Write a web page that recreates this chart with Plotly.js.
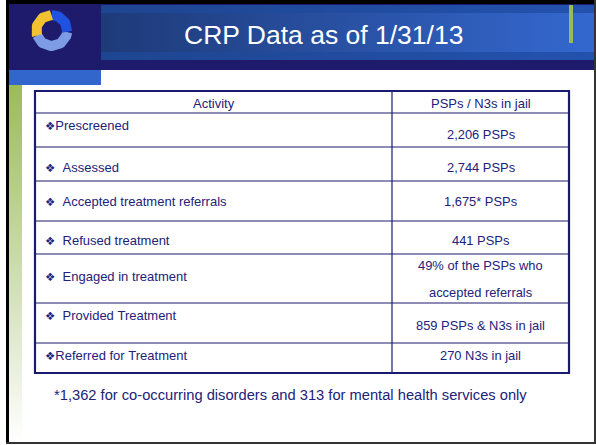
<!DOCTYPE html>
<html><head><meta charset="utf-8">
<script src="https://cdn.plot.ly/plotly-3.0.1.min.js"></script>
<style>html,body{margin:0;padding:0;background:#fff;}#chart{width:596px;height:445px;}</style>
</head><body><div id="chart"></div>
<script>
// ---- content ----
const titleText = 'CRP Data as of 1/31/13';
const headerActivity = 'Activity';
const headerValue = 'PSPs / N3s in jail';
const bullet = '❖';
const activities = ['Prescreened', '  Assessed', '  Accepted treatment referrals', '  Refused treatment', '  Engaged in treatment', '  Provided Treatment', 'Referred for Treatment'];
const values = [['2,206 PSPs'], ['2,744 PSPs'], ['1,675* PSPs'], ['441 PSPs'], ['49% of the PSPs who', 'accepted referrals'], ['859 PSPs & N3s in jail'], ['270 N3s in jail']];
const footnote = '*1,362 for co-occurring disorders and 313 for mental health services only';

// ---- layout geometry (pixels) ----
const rowEdges = [91, 113, 147, 181, 221, 254, 303, 343, 373];
const colEdges = [35, 392, 569];
const activityY = [125, 167, 201, 240, 276, 315, 355];
const valueY = [[134], [167], [201], [240], [265, 292], [325], [355]];

const FONT = 'Arial, "Liberation Sans", "DejaVu Sans", sans-serif';
const NAVY_TXT = '#22227A';
const LINE = '#1A1A6E';

const traces = [];
function gradRect(x0, x1, y0, y1, type, start, stop, cs) {
  traces.push({type:'scatter', mode:'lines', x:[x0,x1,x1,x0,x0], y:[y0,y0,y1,y1,y0], fill:'toself',
    line:{width:0, color:'rgba(0,0,0,0)'}, hoverinfo:'skip', showlegend:false,
    fillgradient:{type:type, start:start, stop:stop, colorscale:cs}});
}
gradRect(9, 22, 85, 442, 'vertical', 85, 442, [[0,'#9BBB59'],[0.6,'#D5E2BE'],[1,'#FFFFFF']]);
gradRect(101, 594, 13, 52, 'horizontal', 101, 594, [[0,'#1E3A78'],[1,'#3468CF']]);
gradRect(101, 594, 5, 13, 'horizontal', 101, 594, [[0,'#1E4590'],[1,'#2352AE']]);
gradRect(101, 594, 52, 60, 'horizontal', 101, 594, [[0,'#1E4590'],[1,'#2352AE']]);

// logo ring (decoration)
function arc(a0, a1, color) {
  const cx = 51.7, cy = 30.5, r = 15.5;
  const xs = [], ys = [];
  for (let a = a0; a <= a1 + 0.001; a += 3) {
    const t = a * Math.PI / 180;
    xs.push(cx + r * Math.cos(t)); ys.push(cy - r * Math.sin(t));
  }
  traces.push({type:'scatter', mode:'lines', x:xs, y:ys, line:{color:color, width:10}, hoverinfo:'skip', showlegend:false});
}
arc(198, 355, '#7E9CE6');
arc(-5, 91, '#1F52E0');
arc(91, 201, '#F2C230');

const shapes = [
  {type:'rect', x0:6, x1:596, y0:0, y1:4, fillcolor:'#000', line:{width:0}, layer:'below'},
  {type:'rect', x0:6, x1:9, y0:0, y1:444, fillcolor:'#000', line:{width:0}, layer:'below'},
  {type:'rect', x0:6, x1:596, y0:442, y1:444, fillcolor:'#333', line:{width:0}, layer:'below'},
  {type:'rect', x0:594, x1:596, y0:0, y1:444, fillcolor:'#333', line:{width:0}, layer:'below'},
  {type:'rect', x0:9, x1:594, y0:4, y1:70, fillcolor:'#1E1B6D', line:{width:0}, layer:'below'},
  {type:'rect', x0:9, x1:101, y0:70, y1:85, fillcolor:'#3366CC', line:{width:0}, layer:'below'},
  {type:'rect', x0:569, x1:573, y0:5, y1:43, fillcolor:'#9BBB59', line:{width:0}}
];
for (let i = 1; i < rowEdges.length - 1; i++) {
  shapes.push({type:'line', x0:colEdges[0], x1:colEdges[2], y0:rowEdges[i], y1:rowEdges[i], line:{color:LINE, width:1.2}});
}
shapes.push({type:'line', x0:colEdges[1], x1:colEdges[1], y0:rowEdges[0], y1:rowEdges[rowEdges.length-1], line:{color:LINE, width:1.2}});
shapes.push({type:'rect', x0:colEdges[0], x1:colEdges[2], y0:rowEdges[0], y1:rowEdges[rowEdges.length-1], line:{color:LINE, width:2.2}});

const annotations = [];
annotations.push({x:323, y:35, text:titleText, showarrow:false, xanchor:'center', yanchor:'middle',
  font:{family:FONT, size:26.5, color:'#FFFFFF'}});
annotations.push({x:(colEdges[0]+colEdges[1])/2, y:(rowEdges[0]+rowEdges[1])/2+1, text:headerActivity, showarrow:false,
  xanchor:'center', yanchor:'middle', font:{family:FONT, size:13, color:NAVY_TXT}});
annotations.push({x:(colEdges[1]+colEdges[2])/2, y:(rowEdges[0]+rowEdges[1])/2+1, text:headerValue, showarrow:false,
  xanchor:'center', yanchor:'middle', font:{family:FONT, size:13, color:NAVY_TXT}});
activities.forEach((a, i) => {
  annotations.push({x:43, y:activityY[i], text:'<span style="font-size:11.5px">' + bullet + '</span>' + a.replace(/ /g, '&nbsp;'),
    showarrow:false, xanchor:'left', yanchor:'middle',
    font:{family:FONT, size:13, color:NAVY_TXT}});
  values[i].forEach((v, j) => {
    annotations.push({x:(colEdges[1]+colEdges[2])/2, y:valueY[i][j], text:v, showarrow:false, xanchor:'center', yanchor:'middle',
      font:{family:FONT, size:12.9, color:NAVY_TXT}});
  });
});
annotations.push({x:52, y:395, text:footnote, showarrow:false, xanchor:'left', yanchor:'middle',
  font:{family:FONT, size:14.7, color:NAVY_TXT}});

const layout = {
  width:596, height:445, margin:{l:0, r:0, t:0, b:0},
  paper_bgcolor:'#FFFFFF', plot_bgcolor:'#FFFFFF',
  xaxis:{range:[0,596], visible:false, fixedrange:true},
  yaxis:{range:[445,0], visible:false, fixedrange:true},
  shapes:shapes, annotations:annotations, showlegend:false
};
Plotly.newPlot('chart', traces, layout, {staticPlot:true, displayModeBar:false});
</script>
</body></html>
